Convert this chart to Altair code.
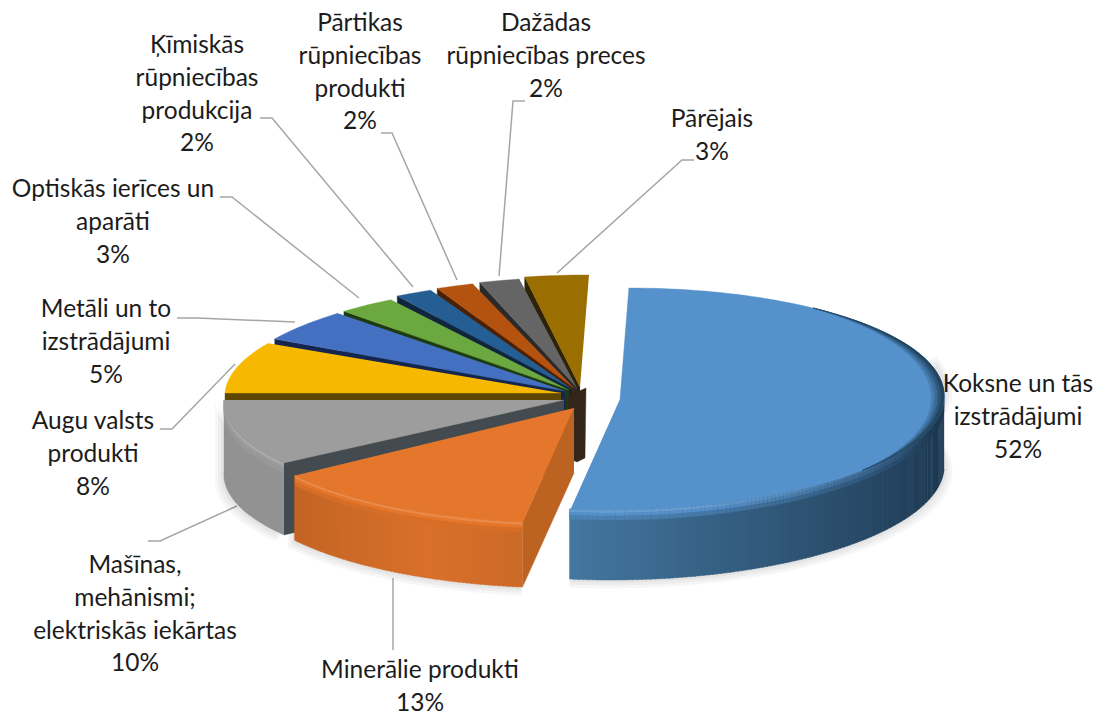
import math
import altair as alt
import pandas as pd

# ---- values ----
categories = ["Koksne un tās izstrādājumi", "Minerālie produkti", "Mašīnas, mehānismi; elektriskās iekārtas",
              "Augu valsts produkti", "Metāli un to izstrādājumi", "Optiskās ierīces un aparāti",
              "Ķīmiskās rūpniecības produkcija", "Pārtikas rūpniecības produkti",
              "Dažādas rūpniecības preces", "Pārējais"]
shares = [52, 13, 10, 8, 5, 3, 2, 2, 2, 3]
top_colors = ["#5591CB", "#E5772C", "#9D9D9D", "#F6B800", "#4470C2", "#6BA83F", "#255E92", "#B4520F", "#656565", "#9A6E00"]
cut_colors = ["#3C6C98", "#BC6322", "#444B50", "#5E4700", "#14264D", "#1D3A10", "#10263C", "#4A2006", "#2A2A2A", "#2E2208"]
side_from = ["#1E3A54", "#B75D20", "#929292", "#8A6A00", "#2F4F88", "#4B7A2C", "#1B4469", "#7C390B", "#484848", "#6C4E00"]
side_to = ["#44769F", "#D8702A", "#929292", "#8A6A00", "#2F4F88", "#4B7A2C", "#1B4469", "#7C390B", "#484848", "#6C4E00"]

# ---- layout of the exploded slices, in page pixels ----
apex = [(620, 399), (574, 408), (564, 400), (561, 393), (565, 391), (569, 390), (572, 389), (574, 388), (577, 388), (580, 387)]
rx = [324, 338, 340, 336, 336, 338, 340, 340, 342, 342]
ry = [111, 115, 107, 106, 108, 108, 110, 110, 111, 112]
depth = [70, 65, 72, 72, 72, 72, 72, 72, 72, 72]
gap = [0, 0, 0, 0.8, 0.8, 0.8, 0.8, 0.8, 0.4, 0]
SHEAR = 0.08

label_lines = [
    (["Koksne un tās", "izstrādājumi", "52%"], 1018, 385),
    (["Minerālie produkti", "13%"], 420, 671),
    (["Mašīnas,", "mehānismi;", "elektriskās iekārtas", "10%"], 135, 566),
    (["Augu valsts", "produkti", "8%"], 93, 422),
    (["Metāli un to", "izstrādājumi", "5%"], 106, 310),
    (["Optiskās ierīces un", "aparāti", "3%"], 113, 190),
    (["Ķīmiskās", "rūpniecības", "produkcija", "2%"], 197, 46),
    (["Pārtikas", "rūpniecības", "produkti", "2%"], 360, 24),
    (["Dažādas", "rūpniecības preces", "2%"], 546, 24),
    (["Pārējais", "3%"], 712, 120),
]
leaders = [
    [(393, 578), (393, 650)],
    [(148, 541), (160, 541), (237, 506)],
    [(160, 429), (172, 429), (235, 364)],
    [(177, 318), (197, 318), (295, 322)],
    [(220, 197), (232, 197), (359, 298)],
    [(260, 118), (272, 118), (413, 287)],
    [(381, 133), (392, 133), (457, 280)],
    [(525, 101), (513, 101), (499, 276)],
    [(694, 160), (682, 160), (557, 273)],
]

W, H = 1085, 708


def hex2rgb(c):
    return [int(c[i:i + 2], 16) for i in (1, 3, 5)]


def mix(c1, c2, t):
    a, b = hex2rgb(c1), hex2rgb(c2)
    return "#%02x%02x%02x" % tuple(round(a[i] + (b[i] - a[i]) * t) for i in range(3))


def pt(i, deg, r=1.0, z=0.0):
    th = math.radians(deg)
    dy = -ry[i] * r * math.cos(th)
    return (apex[i][0] + rx[i] * r * math.sin(th) - SHEAR * dy, apex[i][1] + dy + z)


rows = []
pid = [0]


def poly(points, color):
    pid[0] += 1
    for k, (x, y) in enumerate(points):
        rows.append({"x": x, "y": y, "k": k, "part": "p%04d" % pid[0], "col": color})


def arc_steps(a0, a1, step=1.5):
    n = max(2, int(abs(a1 - a0) / step) + 1)
    return [a0 + (a1 - a0) * j / n for j in range(n + 1)]


# cumulative angles
starts, ends = [], []
acc = 0
for s in shares:
    starts.append(acc * 3.6)
    acc += s
    ends.append(acc * 3.6)


def band(i, lo, hi, z0, z1, color):
    pts = [pt(i, a, 1, z0) for a in arc_steps(lo, hi)] + [pt(i, a, 1, z1) for a in arc_steps(hi, lo)]
    poly(pts, color)


def quad(i, u, v, z0, z1, color):
    poly([pt(i, u, 1, z0), pt(i, v + .2, 1, z0), pt(i, v + .2, 1, z1), pt(i, u, 1, z1)], color)


def draw_slice(i):
    a0, a1 = starts[i], ends[i]
    d = depth[i]
    # cut face on the start edge
    if i != 0:
        poly([pt(i, a0, 0), pt(i, a0), pt(i, a0, 1, d), pt(i, a0, 0, d)], cut_colors[i])
    # outer side wall on the front half, shaded by angle
    lo, hi = max(a0, 90), min(a1, 270)
    if lo < hi:
        if side_from[i] == side_to[i]:
            band(i, lo, hi, 0, d, side_from[i])
        else:
            angs = arc_steps(lo, hi, 0.8)
            for j in range(len(angs) - 1):
                u, v = angs[j], angs[j + 1]
                t = ((u + v) / 2 - lo) / (hi - lo)
                if i == 0:
                    t = min(1, max(0, ((u + v) / 2 - 100) / 87)) ** 1.3
                base = mix(side_from[i], side_to[i], t if i != 1 else 1 - abs(t - .35))
                quad(i, u, v, 0, d, base)
                if i == 0:
                    # the rounded rim fades in towards the front of the big slice
                    f = min(1, max(0, (u - 105) / 60))
                    quad(i, u, v, 0, 3, mix(base, mix(top_colors[i], "#ffffff", .12), f))
                    quad(i, u, v, 3, 6, mix(base, top_colors[i], f))
                    quad(i, u, v, 6, 10, mix(base, mix(top_colors[i], base, .5), f))
        if i != 0:
            mid = mix(side_from[i], side_to[i], .5)
            band(i, lo, hi, 0, 3, mix(top_colors[i], "#ffffff", .14))
            band(i, lo, hi, 3, 6, top_colors[i])
            band(i, lo, hi, 6, 10, mix(top_colors[i], mid, .5))
    # top face (trimmed on the far edge so that the dark cut of the next slice shows)
    ang = arc_steps(a0, a1 - gap[i])
    poly([pt(i, 0, 0)] + [pt(i, a) for a in ang], top_colors[i])
    if i == 0:
        # darker rounded rim where the right side of the big slice turns away
        for width, color in [(0.04, "#477DB0"), (0.03, "#3B6C98"), (0.02, "#2D5678"), (0.01, "#234560")]:
            angs = arc_steps(35, 130, 2)
            outer = [pt(i, a, 1) for a in angs]
            inner = [pt(i, a, 1 - width * math.sin(math.radians((a - 35) / 95 * 180))) for a in reversed(angs)]
            poly(outer + inner, color)


# back slices first, then the central column, then the front slices
for i in [9, 8, 7, 6, 5, 4, 3, 2]:
    draw_slice(i)
poly([(568, 396), (586, 388), (585, 458), (577, 462), (568, 458)], "#33261A")
draw_slice(1)
draw_slice(0)

# soft shadow around the pie
shadow = []
for n, grow in enumerate([9, 6, 3]):
    for i in [0, 1, 2]:
        lo, hi = max(starts[i], 70), min(ends[i], 290)
        pts = [pt(i, a, 1 + grow / 340, depth[i] + grow * .6) for a in arc_steps(lo, hi, 4)]
        pts += [pt(i, a, 1 + grow / 340, -4) for a in arc_steps(hi, lo, 4)]
        for k, (x, y) in enumerate(pts):
            shadow.append({"x": x, "y": y, "k": k, "part": "s%d%d" % (n, i)})

text_rows = []
for lines, x, y in label_lines:
    for j, line in enumerate(lines):
        text_rows.append({"x": x, "y": y + 32.8 * j, "t": line})

leader_rows = []
for n, line in enumerate(leaders):
    for k, (x, y) in enumerate(line):
        leader_rows.append({"x": x, "y": y, "k": k, "part": "l%d" % n})

X = alt.X("x:Q", scale=alt.Scale(domain=[8, 8 + W]), axis=None)
Y = alt.Y("y:Q", scale=alt.Scale(domain=[8 + H, 8]), axis=None)

shadow_layer = alt.Chart(pd.DataFrame(shadow)).mark_line(strokeWidth=0, fill="#000000", fillOpacity=0.035).encode(
    x=X, y=Y, order="k:Q", detail="part:N")

pie_layer = alt.Chart(pd.DataFrame(rows)).mark_line(strokeWidth=0.4).encode(
    x=X, y=Y, order="k:Q", detail="part:N",
    fill=alt.Fill("col:N", scale=None), stroke=alt.Stroke("col:N", scale=None))

leader_layer = alt.Chart(pd.DataFrame(leader_rows)).mark_line(color="#a6a6a6", strokeWidth=1.5).encode(
    x=X, y=Y, order="k:Q", detail="part:N")

text_layer = alt.Chart(pd.DataFrame(text_rows)).mark_text(font="Lato", fontSize=24.5, color="#1c1c1c", align="center", baseline="middle").encode(
    x=X, y=Y, text="t:N")

chart = alt.layer(leader_layer, shadow_layer, pie_layer, text_layer).properties(
    width=W, height=H, padding=0, autosize=alt.AutoSizeParams(type="none"), background="white"
).configure_view(stroke=None)

chart.save("out.html", embed_options={"renderer": "svg", "actions": False})
